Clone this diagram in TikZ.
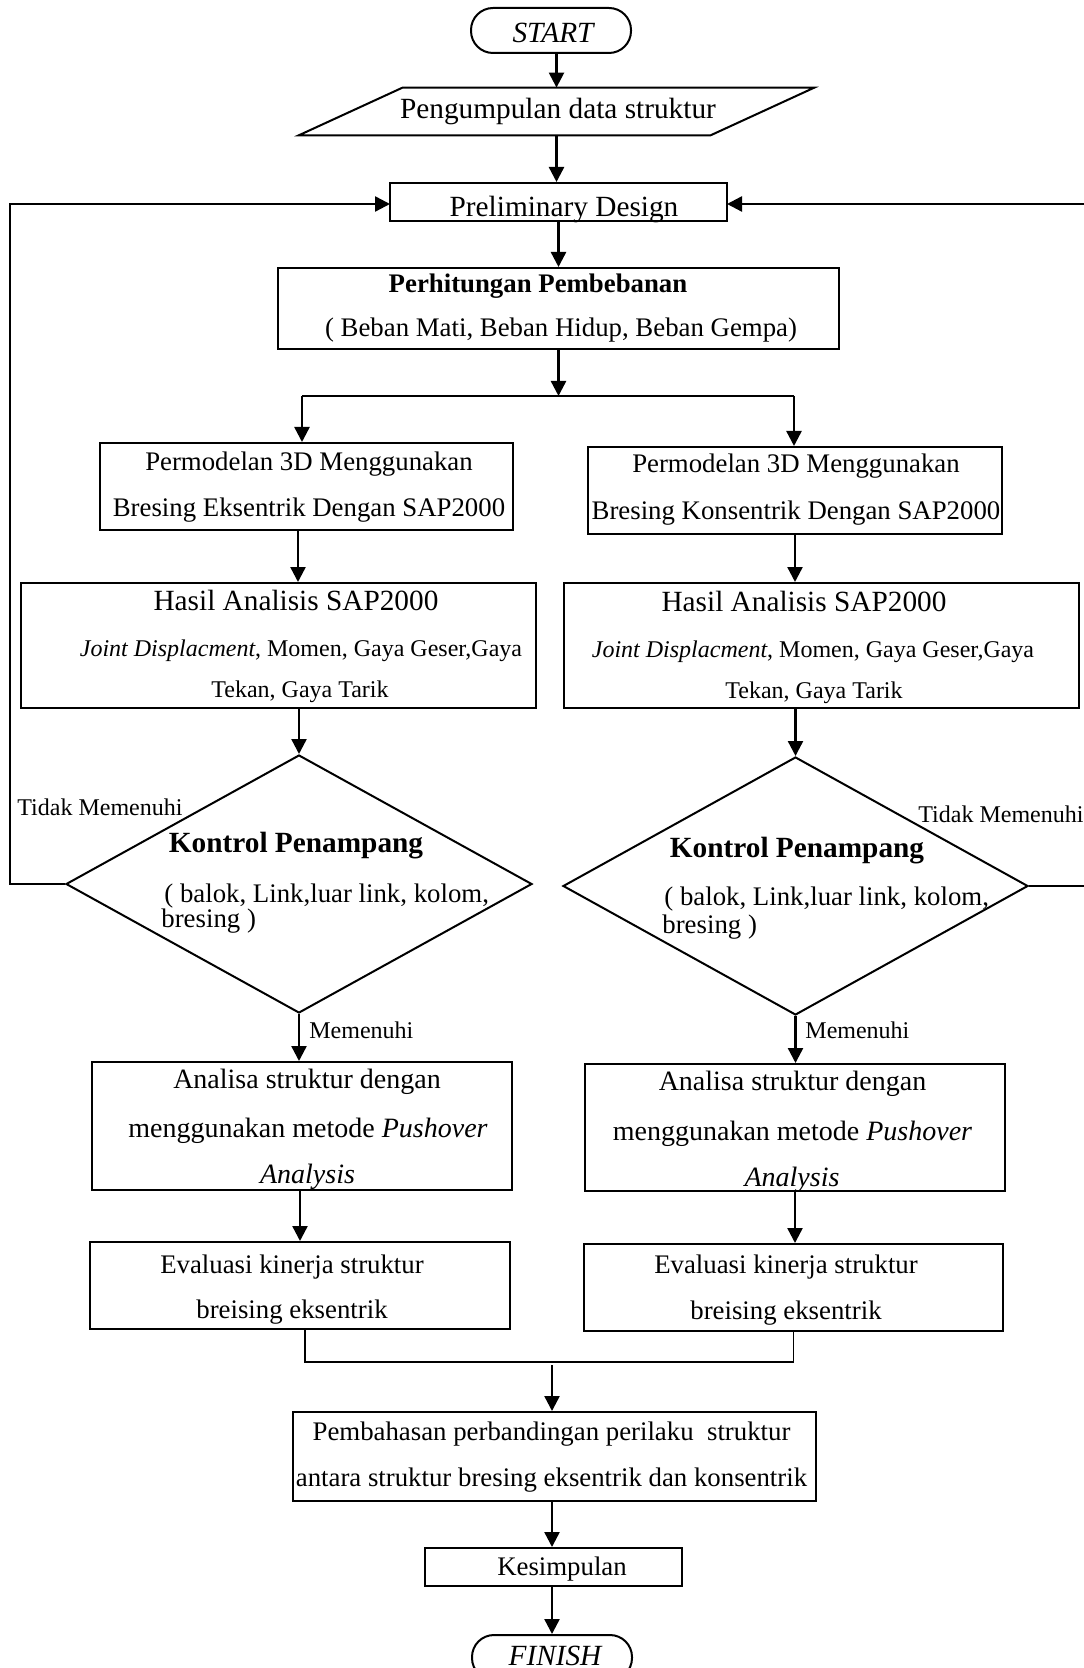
\documentclass[tikz,border=0pt]{standalone}
\usepackage{fontspec}
\setmainfont{Liberation Serif}
\usetikzlibrary{shapes.geometric,arrows.meta,calc}
\newcommand\FsBig{\fontsize{14.65}{17}\selectfont}
\newcommand\FsMid{\fontsize{13.4}{16}\selectfont}
\newcommand\FsAna{\fontsize{14}{16}\selectfont}
\newcommand\FsSmall{\fontsize{12}{14}\selectfont}
\begin{document}
\begin{tikzpicture}[x=0.5pt,y=-0.5pt,
  box/.style={draw,line width=1pt,inner sep=0,rectangle},
  term/.style={draw,line width=1pt,inner sep=0,rectangle,rounded corners=11pt,minimum width=80pt,minimum height=22.5pt},
  dia/.style={draw,line width=1pt,inner sep=0,diamond,minimum width=233pt,minimum height=129pt},
  ghost/.style={inner sep=0,rectangle},
  arr/.style={line width=1.2pt,-{Triangle[length=7.5pt,width=7.5pt]}},
  conn/.style={line width=1.2pt},
  thinconn/.style={line width=0.65pt},
  txt/.style={inner sep=0,anchor=base},
  txtl/.style={inner sep=0,anchor=base west}]
\useasboundingbox (0,0) rectangle (1083,1668);

% ---- shapes ----
\node[term] (start) at (551,30.5) {};
\node[ghost,minimum width=257.5pt,minimum height=23.5pt] (data) at (556.5,111.5) {};
\draw[line width=1pt] ($(data.north west)+(104,0)$) -- (data.north east) -- ($(data.south east)+(-104,0)$) -- (data.south west) -- cycle;
\node[box,minimum width=168.5pt,minimum height=19pt] (prelim) at (558.5,202) {};
\node[box,minimum width=280.5pt,minimum height=40.5pt] (beban) at (558.5,308.5) {};
\node[box,minimum width=206.5pt,minimum height=43.5pt] (modelL) at (306.5,486.5) {};
\node[box,minimum width=207pt,minimum height=43.5pt] (modelR) at (795,490.5) {};
\node[box,minimum width=257.5pt,minimum height=62.5pt] (hasilL) at (278.5,645.5) {};
\node[box,minimum width=257.5pt,minimum height=62.5pt] (hasilR) at (821.5,645.5) {};
\node[dia] (dL) at (299,884) {};
\node[dia,minimum width=232.5pt] (dR) at (795.5,886) {};
\node[box,minimum width=210pt,minimum height=64pt] (anaL) at (302,1126) {};
\node[box,minimum width=210pt,minimum height=63.5pt] (anaR) at (795,1127.5) {};
\node[box,minimum width=210pt,minimum height=43.5pt] (evalL) at (300,1285.5) {};
\node[box,minimum width=209.5pt,minimum height=43.5pt] (evalR) at (793.5,1287.5) {};
\node[box,minimum width=261.5pt,minimum height=44.5pt] (pemb) at (554.5,1456.5) {};
\node[box,minimum width=128.5pt,minimum height=19pt] (kesim) at (553.5,1567) {};
\node[term] (finish) at (552,1657.5) {};

% ---- texts ----
\node[txt] (tStart) at (553,43) {\FsBig\itshape START};
\node[txt] (tData) at (558,119) {\FsBig Pengumpulan data struktur};
\node[txt] (tPrelim) at (564,217) {\FsBig Preliminary Design};
\node[txt] (tBeban1) at (538,293) {\FsMid\bfseries Perhitungan Pembebanan};
\node[txt] (tBeban2) at (561,337) {\FsMid ( Beban Mati, Beban Hidup, Beban Gempa)};
\node[txt] (tModelL1) at (309,470) {\FsMid Permodelan 3D Menggunakan};
\node[txt] (tModelL2) at (309,516) {\FsMid Bresing Eksentrik Dengan SAP2000};
\node[txt] (tModelR1) at (796,473) {\FsMid Permodelan 3D Menggunakan};
\node[txt] (tModelR2) at (796,519) {\FsMid Bresing Konsentrik Dengan SAP2000};
\node[txt] (tHasilL1) at (296,610) {\FsBig Hasil Analisis SAP2000};
\node[txt] (tHasilL2) at (301,656) {\FsSmall\textit{Joint Displacment}, Momen, Gaya Geser,Gaya};
\node[txt] (tHasilL3) at (300,697) {\FsSmall Tekan, Gaya Tarik};
\node[txt] (tHasilR1) at (804,611) {\FsBig Hasil Analisis SAP2000};
\node[txt] (tHasilR2) at (813,657) {\FsSmall\textit{Joint Displacment}, Momen, Gaya Geser,Gaya};
\node[txt] (tHasilR3) at (814,698) {\FsSmall Tekan, Gaya Tarik};
\node[txt] (tKL1) at (296,852) {\FsBig\bfseries Kontrol Penampang};
\node[txtl] (tKL2) at (164,902) {\FsMid ( balok, Link,luar link, kolom,};
\node[txtl] (tKL3) at (161,927) {\FsMid bresing )};
\node[txt] (tKR1) at (797,857) {\FsBig\bfseries Kontrol Penampang};
\node[txtl] (tKR2) at (664,905) {\FsMid ( balok, Link,luar link, kolom,};
\node[txtl] (tKR3) at (662,933) {\FsMid bresing )};
\node[txtl] (tTidakL) at (17,815) {\FsSmall Tidak Memenuhi};
\node[txtl] (tTidakR) at (918,822) {\FsSmall Tidak Memenuhi};
\node[txtl] (tMemL) at (309,1038) {\FsSmall Memenuhi};
\node[txtl] (tMemR) at (805,1038) {\FsSmall Memenuhi};
\node[txt] (tAnaL1) at (307,1088) {\FsAna Analisa struktur dengan};
\node[txt] (tAnaL2) at (308,1137) {\FsAna menggunakan metode \textit{Pushover}};
\node[txt] (tAnaL3) at (307.5,1183) {\FsAna\itshape Analysis};
\node[txt] (tAnaR1) at (792.5,1090) {\FsAna Analisa struktur dengan};
\node[txt] (tAnaR2) at (792.5,1140) {\FsAna menggunakan metode \textit{Pushover}};
\node[txt] (tAnaR3) at (792,1186) {\FsAna\itshape Analysis};
\node[txt] (tEvalL1) at (292,1273) {\FsMid Evaluasi kinerja struktur};
\node[txt] (tEvalL2) at (292,1318) {\FsMid breising eksentrik};
\node[txt] (tEvalR1) at (786,1273) {\FsMid Evaluasi kinerja struktur};
\node[txt] (tEvalR2) at (786,1319) {\FsMid breising eksentrik};
\node[txt] (tPemb1) at (551.5,1440) {\FsMid Pembahasan perbandingan perilaku~ struktur};
\node[txt] (tPemb2) at (551.5,1486) {\FsMid antara struktur bresing eksentrik dan konsentrik};
\node[txt] (tKesim) at (562,1575) {\FsMid Kesimpulan};
\node[txt] (tFinish) at (555,1665) {\FsBig\itshape FINISH};

% ---- coordinates ----
\coordinate (split) at (558.5,396);
\coordinate (splitL) at (302,396);
\coordinate (splitR) at (794,396);
\coordinate (fbL) at (10,884);
\coordinate (fbR) at (1090,886);
\coordinate (pwL) at (390,204);
\coordinate (pwR) at (727,204);
\coordinate (mj) at (552,1362);

% ---- connectors ----
\draw[arr] (start.south -| data.north) -- (data.north);
\draw[arr] (data.south) -- (data.south |- prelim.north);
\draw[arr] (prelim.south) -- (beban.north);
\draw[arr] (beban.south) -- (split);
\draw[conn] (splitL) -- (splitR);
\draw[arr] (splitL) -- (splitL |- modelL.north);
\draw[arr] (splitR) -- (splitR |- modelR.north);
\draw[arr] ([xshift=-4.25pt]modelL.south) -- ([xshift=-4.25pt]modelL.south |- hasilL.north);
\draw[arr] (modelR.south) -- (modelR.south |- hasilR.north);
\draw[arr] (hasilL.south -| dL.north) -- (dL.north);
\draw[arr] (hasilR.south -| dR.north) -- (dR.north);
\draw[arr] (dL.south) -- (dL.south |- anaL.north);
\draw[arr] (dR.south) -- (dR.south |- anaR.north);
\draw[arr] (anaL.south -| evalL.north) -- (evalL.north);
\draw[arr] (anaR.south) -- (anaR.south |- evalR.north);
\draw[thinconn] ([xshift=2.5pt]evalL.south) |- (mj) -| (evalR.south);
\draw[arr] ([yshift=-1.5pt]mj) -- (mj |- pemb.north);
\draw[arr] (pemb.south -| mj) -- (mj |- kesim.north);
\draw[arr] (kesim.south -| mj) -- (mj |- finish.north);
\draw[arr] (dL.west) -- (fbL) |- (pwL);
\draw[arr] (dR.east) -- (fbR) |- (pwR);
\end{tikzpicture}
\end{document}
